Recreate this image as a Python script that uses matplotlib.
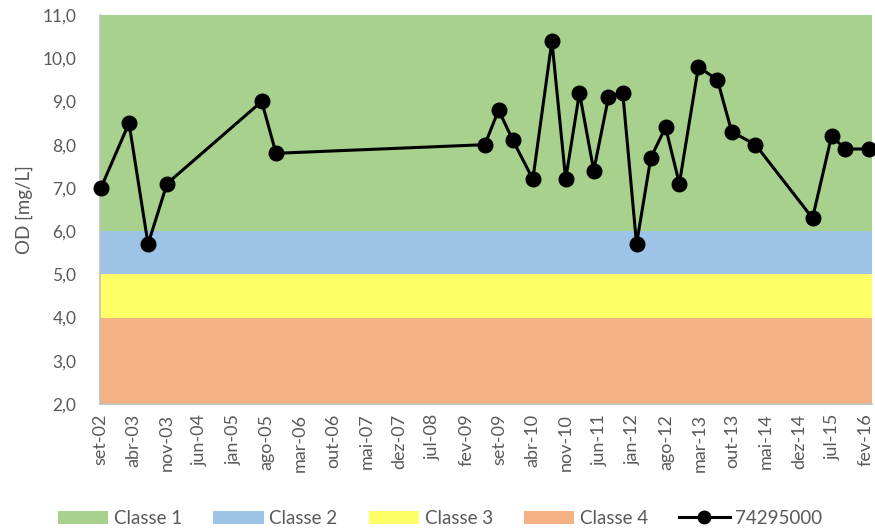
import matplotlib
matplotlib.use("Agg")
import matplotlib.pyplot as plt
from matplotlib.patches import Patch
from matplotlib.lines import Line2D

plt.rcParams['font.family'] = ['Lato', 'DejaVu Sans']

# Sampling dates (year, month, day) and dissolved oxygen values, station 74295000
dates = [(2002, 9, 7), (2003, 3, 4), (2003, 7, 4), (2003, 11, 4), (2005, 7, 1),
         (2005, 10, 1), (2009, 5, 28), (2009, 8, 25), (2009, 11, 25), (2010, 4, 1),
         (2010, 8, 1), (2010, 10, 28), (2011, 1, 25), (2011, 4, 25), (2011, 7, 28),
         (2011, 10, 28), (2012, 1, 25), (2012, 4, 25), (2012, 7, 28), (2012, 10, 25),
         (2013, 2, 25), (2013, 6, 25), (2013, 9, 25), (2014, 2, 25), (2015, 2, 25),
         (2015, 6, 25), (2015, 9, 22), (2016, 2, 19)]
od_values = [7.0, 8.5, 5.7, 7.1, 9.0,
             7.8, 8.0, 8.8, 8.1, 7.2,
             10.4, 7.2, 9.2, 7.4, 9.1,
             9.2, 5.7, 7.7, 8.4, 7.1,
             9.8, 9.5, 8.3, 8.0, 6.3,
             8.2, 7.9, 7.9]

# Class limits (mg/L)
class_names = ['Classe 1', 'Classe 2', 'Classe 3', 'Classe 4']
class_lower = [6.0, 5.0, 4.0, 2.0]
class_upper = [11.0, 6.0, 5.0, 4.0]
class_colors = ['#A9D18E', '#9DC3E6', '#FFFF66', '#F4B183']

tick_labels = ['set-02', 'abr-03', 'nov-03', 'jun-04', 'jan-05', 'ago-05',
               'mar-06', 'out-06', 'mai-07', 'dez-07', 'jul-08', 'fev-09',
               'set-09', 'abr-10', 'nov-10', 'jun-11', 'jan-12', 'ago-12',
               'mar-13', 'out-13', 'mai-14', 'dez-14', 'jul-15', 'fev-16']

def month_index(d):
    # months elapsed since 1 Sep 2002
    return (d[0] - 2002) * 12 + (d[1] - 9) + (d[2] - 1) / 30.0

x = [month_index(d) for d in dates]
tick_pos = [7 * i for i in range(len(tick_labels))]
x_end = tick_pos[-1] + 1.3

fig = plt.figure(figsize=(8.75, 5.31), dpi=100)
ax = fig.add_axes([100 / 875, 1 - 404 / 531, (872 - 100) / 875, (404 - 15) / 531])

for lo, hi, col in zip(class_lower, class_upper, class_colors):
    ax.fill_between([0, x_end], lo, hi, color=col, linewidth=0, zorder=1)

ax.plot(x, od_values, color='black', linewidth=2.2, marker='o',
        markersize=10.5, zorder=3, clip_on=False)

ax.set_xlim(0, x_end)
ax.set_ylim(2, 11)
ax.set_yticks([2 + i for i in range(10)])
ax.set_yticklabels([f'{2 + i},0' for i in range(10)])
ax.set_xticks(tick_pos)
ax.set_xticklabels(tick_labels, rotation=90)

grey = '#595959'
ax.tick_params(axis='both', length=0, labelsize=12.5, colors=grey)
ax.tick_params(axis='x', labelsize=13, pad=7)
ax.tick_params(axis='y', pad=17)
for s in ['top', 'right']:
    ax.spines[s].set_visible(False)
for s in ['left', 'bottom']:
    ax.spines[s].set_color('#BFBFBF')
    ax.spines[s].set_linewidth(1.2)

ax.set_ylabel('OD [mg/L]', fontsize=13.5, color=grey, labelpad=7)

handles = [Patch(facecolor=c, edgecolor='none') for c in class_colors]
handles.append(Line2D([], [], color='black', linewidth=2.2, marker='o', markersize=9))
labels = class_names + ['74295000']
leg = fig.legend(handles, labels, loc='lower center', bbox_to_anchor=(0.503, -0.024),
                 ncol=5, frameon=False, fontsize=13.5, handlelength=2.7,
                 handleheight=0.65, handletextpad=0.3, columnspacing=1.65)
for t in leg.get_texts():
    t.set_color(grey)

fig.savefig('out.png', dpi=100)
